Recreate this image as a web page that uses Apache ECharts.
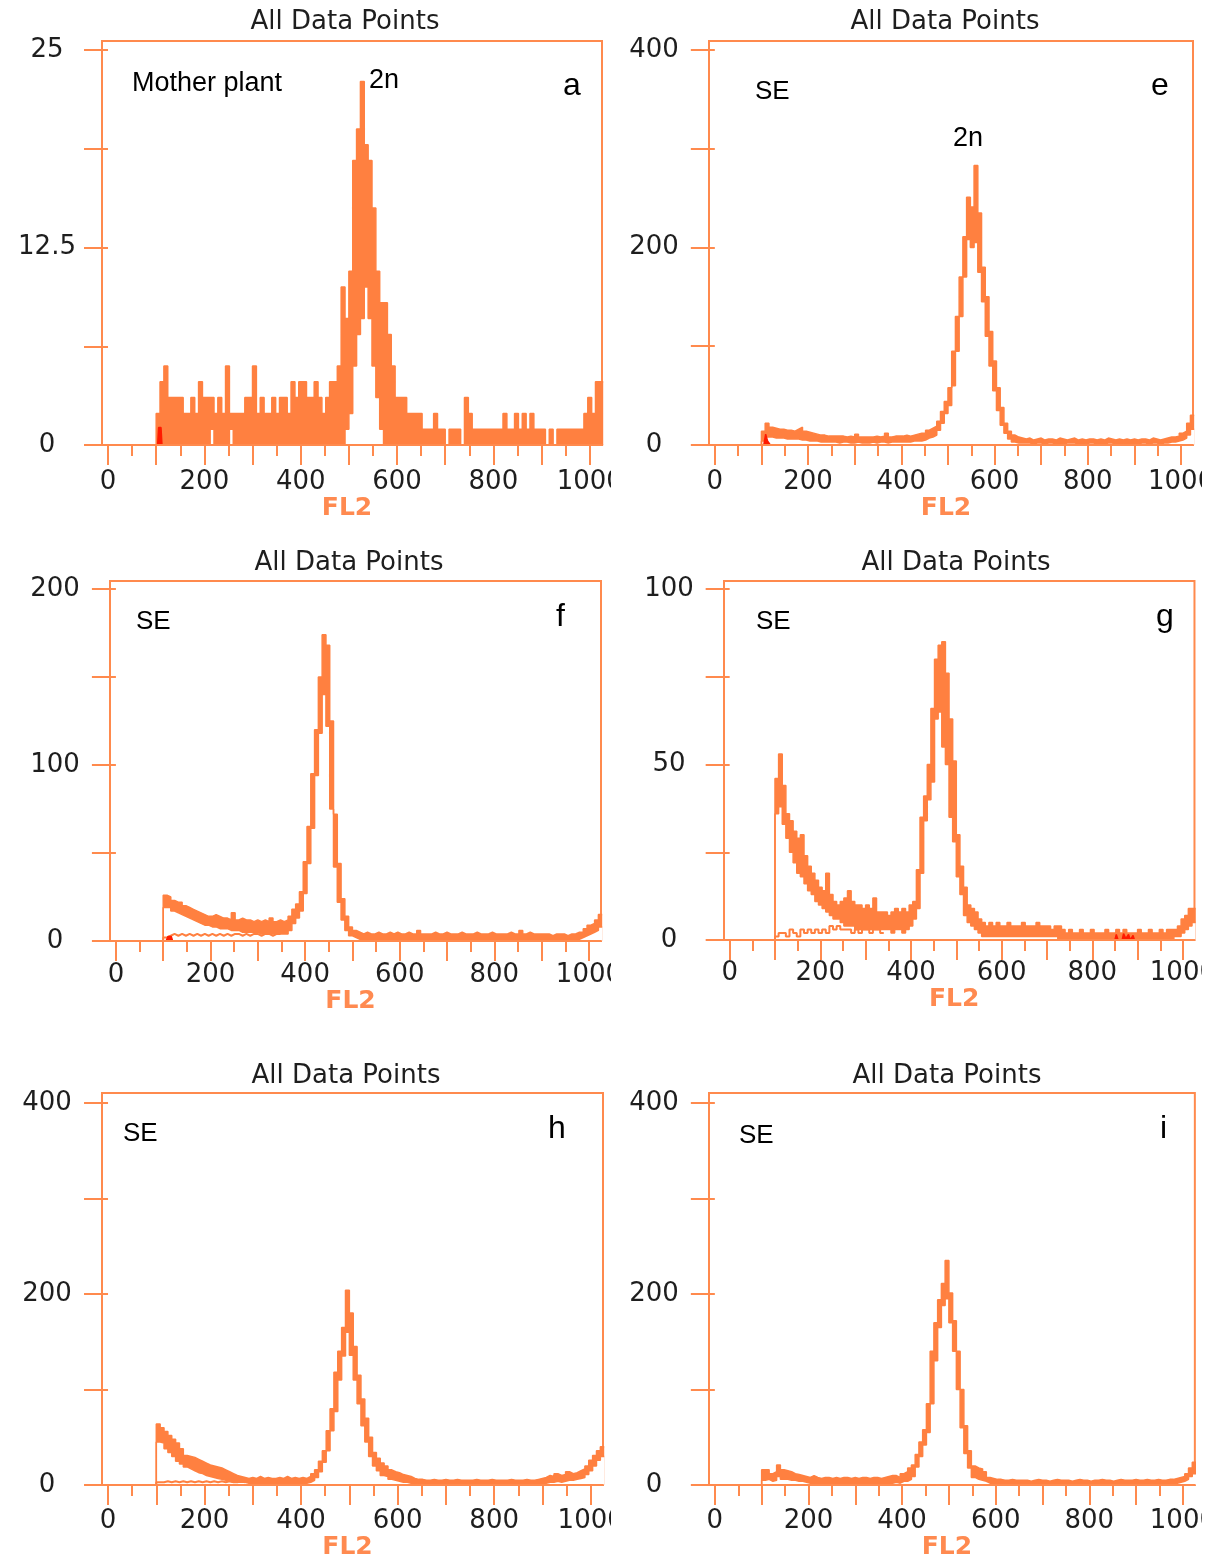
<!DOCTYPE html>
<html>
<head>
<meta charset="utf-8">
<title>FL2 histograms</title>
<script src="https://cdn.jsdelivr.net/npm/echarts@6/dist/echarts.min.js"></script>
<style>
  html, body { margin: 0; padding: 0; background: #fff; }
  #chart { width: 1219px; height: 1561px; }
</style>
</head>
<body>
<div id="chart"></div>
<script>
// histogram bins: first FL2 channel and bin width (channels)
var binStart = 100;
var binStep = 8;

// FL2 axis ticks / labels
var xMajorTicks = [0, 100, 200, 300, 400, 500, 600, 700, 800, 900, 1000];
var xMinorTicks = [50, 150, 250, 350, 450, 550, 650, 750, 850, 950];
var xLabels = [0, 200, 400, 600, 800, 1000];

// count axis ticks / labels
var yTicksA = [0, 6.25, 12.5, 18.75, 25];
var yLabelsA = [0, 12.5, 25];
var yTicks400 = [0, 100, 200, 300, 400];
var yLabels400 = [0, 200, 400];
var yTicksF = [0, 50, 100, 150, 200];
var yLabelsF = [0, 100, 200];
var yTicksG = [0, 25, 50, 75, 100];
var yLabelsG = [0, 50, 100];

// each panel: upper (hi) and lower (lo) edge of the drawn trace per bin,
// bins start at channel 100, 108, ... 1020 (10 bins per row)
// a - Mother plant
var hiA = [2,4,5,3,3,3,3,2,2,3,
           2,4,3,3,3,2,3,2,5,2,
           2,2,2,3,3,5,2,3,2,2,
           3,2,3,3,2,4,3,4,4,3,
           3,4,3,2,3,4,4,5,10,8,
           11,18,20,23,19,18,15,11,9,9,
           7,5,3,3,3,2,2,2,2,1,
           1,1,2,1,1,0,1,1,1,0,
           3,2,1,1,1,1,1,1,1,1,
           2,1,1,2,1,2,1,2,1,1,
           1,0,1,0,1,1,1,1,1,1,
           1,2,3,2,4,4];
var loA = [0,0,0,0,0,0,0,0,0,0,
           0,0,0,0,1,0,0,0,0,1,
           0,0,0,0,0,0,0,0,0,0,
           0,0,0,0,0,0,0,0,0,0,
           0,0,0,0,0,0,0,0,0,1,
           2,5,7,8,10,8,5,3,1,0,
           0,0,0,0,0,0,0,0,0,0,
           0,0,0,0,0,0,0,0,0,0,
           0,0,0,0,0,0,0,0,0,0,
           0,0,0,0,0,0,0,0,0,0,
           0,0,0,0,0,0,0,0,0,0,
           0,0,0,0,0,0];

// e - SE
var hiE = [14,22,18,17,16,16,15,15,14,16,
           18,14,13,12,11,10,10,9,9,9,
           9,9,8,9,8,11,8,8,8,8,
           9,8,9,12,8,9,9,9,10,9,
           10,11,12,12,15,17,19,24,34,44,
           58,95,130,170,211,251,241,283,235,180,
           150,115,85,58,38,22,14,10,8,7,
           6,7,5,6,7,5,6,6,5,7,
           6,5,6,7,5,6,5,6,6,5,
           6,5,7,6,5,6,5,6,5,6,
           5,6,6,5,7,6,5,6,7,8,
           8,9,12,14,22,30];
var loE = [4,8,8,7,7,7,6,6,6,6,
           5,5,4,4,4,3,3,3,3,3,
           2,3,3,2,2,3,2,2,2,3,
           2,3,3,2,3,3,3,3,3,3,
           4,4,4,5,7,8,10,15,22,32,
           40,60,95,130,170,208,200,205,175,145,
           110,80,55,35,20,12,6,3,2,2,
           2,2,1,2,2,1,2,2,1,2,
           1,2,2,2,1,2,1,2,2,1,
           2,1,2,2,1,2,1,2,1,2,
           1,2,2,1,2,2,1,2,2,3,
           3,4,5,7,10,16];

// f - SE
var hiF = [26,25,23,22,22,20,19,18,17,16,
           15,14,14,15,14,13,13,12,16,12,
           13,12,12,11,12,11,12,11,13,11,
           12,11,12,14,18,21,28,45,65,95,
           120,150,174,168,125,72,44,24,14,8,
           6,5,4,5,4,4,5,4,4,5,
           4,5,4,4,5,4,4,6,4,4,
           4,5,4,4,5,4,4,4,5,4,
           4,4,5,4,4,4,5,4,4,4,
           4,5,4,4,6,4,5,4,4,4,
           4,4,3,4,4,4,3,4,4,5,
           5,7,9,10,12,15];
var loF = [19,19,17,16,15,14,13,12,11,10,
           9,9,8,8,7,7,7,6,6,6,
           5,5,5,5,5,4,4,4,4,4,
           4,4,4,6,10,13,17,27,44,64,
           94,118,140,122,75,42,22,12,6,3,
           2,1,1,1,1,1,1,1,1,1,
           1,1,1,1,1,1,1,1,1,1,
           1,1,1,1,1,1,1,1,1,1,
           1,1,1,1,1,1,1,1,1,1,
           1,1,1,1,1,1,1,1,1,1,
           1,1,1,1,1,1,1,1,1,1,
           2,3,4,5,6,8];
// second, lower trace (channels 100 - 340)
var lowF = [2,3,4,3,4,3,4,3,4,3,
            4,3,4,3,4,3,4,3,4,4,
            3,4,3,4,4,3,4,4,3,4,
            4];

// g - SE
var hiG = [46,53,44,36,34,31,29,30,24,21,
           19,17,15,14,19,13,11,10,11,12,
           14,11,10,10,9,10,9,12,8,8,
           8,7,8,9,8,9,8,10,11,20,
           35,41,50,66,80,84,85,76,63,51,
           30,21,15,10,9,8,6,5,4,5,
           4,5,4,4,5,4,4,4,5,4,
           4,4,5,4,4,4,3,4,4,3,
           2,3,2,2,3,2,2,3,2,2,
           2,3,2,2,3,2,3,2,2,2,
           3,2,2,3,2,2,3,2,3,3,
           3,4,6,7,9,9];
var loG = [36,38,33,29,25,22,19,18,16,14,
           13,11,10,9,8,7,6,6,5,4,
           4,4,3,3,3,3,3,3,3,3,
           3,3,2,3,3,2,3,4,6,9,
           19,34,40,45,63,65,55,50,35,28,
           18,13,7,5,4,3,2,1,1,1,
           1,1,1,1,1,1,1,1,1,1,
           1,1,1,1,1,1,1,1,0,0,
           0,0,0,0,0,0,0,0,0,0,
           0,0,0,0,0,0,0,0,0,0,
           0,0,0,0,0,0,0,0,0,0,
           1,1,2,3,4,5];
// lower trace (channels 100 - 332)
var lowG = [1,2,2,1,3,2,1,3,2,3,
            2,3,2,3,2,4,3,4,3,3,
            3,2,3,2,3,3,2,3,3,2];

// h - SE
var hiH = [64,60,56,52,48,44,38,31,30,29,
           27,25,23,21,20,19,18,16,14,12,
           10,9,8,7,8,7,9,7,8,7,
           7,8,7,9,7,8,7,8,7,9,
           12,16,25,36,57,80,118,140,165,204,
           180,145,115,90,70,50,34,28,23,20,
           16,14,13,11,10,9,7,6,6,5,
           5,6,5,5,6,5,5,6,5,5,
           5,5,6,5,5,5,6,5,5,5,
           5,6,5,5,5,6,5,5,6,7,
           8,10,9,12,10,11,14,12,13,15,
           17,20,26,31,36,40];
var loH = [45,44,38,34,30,25,22,19,17,15,
           13,12,10,9,8,7,6,5,4,3,
           3,3,3,2,2,2,2,2,2,2,
           2,2,2,2,2,2,2,2,2,3,
           5,8,14,24,36,57,77,110,135,160,
           136,110,85,62,45,30,20,15,10,9,
           6,5,4,3,3,2,2,1,1,1,
           1,1,1,1,1,1,1,1,1,1,
           1,1,1,1,1,1,1,1,1,1,
           1,1,1,1,1,1,1,1,1,2,
           2,3,3,4,3,4,5,5,6,7,
           8,11,15,20,26,30];
// lower trace (channels 100 - 276)
var lowH = [3,3,4,3,4,3,4,3,4,3,
            4,3,4,3,4,3,4,3,4,3,
            3,4,3];

// i - SE
var hiI = [16,16,12,14,21,16,15,14,12,11,
           10,9,8,10,8,7,8,8,7,8,
           7,8,8,7,8,7,8,8,7,8,
           8,7,8,9,10,10,8,12,14,18,
           21,32,45,58,85,140,170,194,211,235,
           201,172,140,100,62,36,20,18,17,14,
           8,7,6,6,5,5,6,5,5,5,
           5,4,5,6,5,5,4,5,6,5,
           5,5,4,5,6,5,5,4,5,5,
           6,5,5,4,5,6,5,5,5,6,
           5,5,6,5,5,6,5,5,6,6,
           7,8,9,12,18,24];
var loI = [5,6,4,5,9,6,6,5,5,4,
           4,3,2,2,2,2,2,2,2,2,
           2,2,2,2,2,2,2,2,2,2,
           2,2,2,2,2,3,2,4,4,6,
           9,19,30,42,55,85,130,165,188,195,
           170,140,100,60,33,18,8,6,5,4,
           2,1,1,1,1,1,1,1,1,1,
           1,1,1,1,1,1,1,1,1,1,
           1,1,1,1,1,1,1,1,1,1,
           1,1,1,1,1,1,1,1,1,1,
           1,1,1,1,1,1,1,1,1,1,
           2,3,4,6,9,12];

// red region markers [channel, count]
var markA = [[103, 0], [105, 1.1], [110, 1.1], [112, 0]];
var markE = [[105, 0], [109, 11], [113, 4], [119, 0]];
var markF = [[106, 0], [110, 2.5], [117, 2.5], [120, 0]];
var markG = [[850, 0], [853, 1.6], [857, 0], [866, 0], [869, 1.8], [874, 0.4], [880, 1.6], [884, 0], [890, 1.3], [893, 0]];

var traceColor = '#ff8040';
var boxColor = '#ff8a4d';
var nameColor = '#ff8a50';
var textColor = '#1e1e1e';
var xMin = -12.5, xMax = 1025.5;

var panels = [
  { grid: {left: 102, top: 41, width: 500, height: 404}, yMax: 25.57, yTicks: yTicksA, yLabels: yLabelsA,
    labelGap: 37, nameGap: 56, hi: hiA, lo: loA, low: null, mark: markA, title: [345, 22.7],
    notes: [['Mother plant', 132, 83.7, 27, 'left'], ['2n', 369, 80.7, 27, 'left'], ['a', 563, 86, 32, 'left']] },
  { grid: {left: 709, top: 41, width: 484, height: 404}, yMax: 409.1, yTicks: yTicks400, yLabels: yLabels400,
    labelGap: 37, nameGap: 56, hi: hiE, lo: loE, low: null, mark: markE, title: [945, 22.7],
    notes: [['SE', 755, 92, 26, 'left'], ['2n', 953, 138.7, 27, 'left'], ['e', 1151, 86, 32, 'left']] },
  { grid: {left: 110, top: 581, width: 491, height: 360}, yMax: 204.5, yTicks: yTicksF, yLabels: yLabelsF,
    labelGap: 34, nameGap: 52, hi: hiF, lo: loF, low: lowF, mark: markF, title: [349, 563.3],
    notes: [['SE', 136, 622, 26, 'left'], ['f', 556, 617, 32, 'left']] },
  { grid: {left: 724, top: 581, width: 477, height: 359}, yMax: 102.3, yTicks: yTicksG, yLabels: yLabelsG,
    labelGap: 33, nameGap: 51, hi: hiG, lo: loG, low: lowG, mark: markG, title: [956, 563.3],
    notes: [['SE', 756, 622, 26, 'left'], ['g', 1156, 617, 32, 'left']] },
  { grid: {left: 102, top: 1093, width: 501, height: 399}, yMax: 410.3, yTicks: yTicks400, yLabels: yLabels400,
    labelGap: 36, nameGap: 58, hi: hiH, lo: loH, low: lowH, mark: null, title: [346, 1076],
    notes: [['SE', 123, 1134, 26, 'left'], ['h', 548, 1129, 32, 'left']] },
  { grid: {left: 709, top: 1093, width: 488, height: 399}, yMax: 410.3, yTicks: yTicks400, yLabels: yLabels400,
    labelGap: 36, nameGap: 58, hi: hiI, lo: loI, low: null, mark: null, title: [947, 1076],
    notes: [['SE', 739, 1136, 26, 'left'], ['i', 1160, 1129, 32, 'left']] }
];

// bins -> step points, starting from the baseline
function toSteps(vals) {
  var d = [[binStart - binStep, 0]];
  vals.forEach(function (v, i) { d.push([binStart + i * binStep, v]); });
  d.push([binStart + vals.length * binStep, vals[vals.length - 1]]);
  return d;
}
function plain(v) { return String(v); }

var option = { animation: false, grid: [], xAxis: [], yAxis: [], series: [], graphic: [] };
var labelFont = { fontFamily: 'DejaVu Sans', fontSize: 26, color: textColor };

panels.forEach(function (p, gi) {
  option.grid.push(Object.assign({ show: true, borderColor: boxColor, borderWidth: 2 }, p.grid));

  option.xAxis.push({
    gridIndex: gi, type: 'value', min: xMin, max: xMax, position: 'bottom', z: 5,
    axisLine: { show: true, lineStyle: { color: boxColor, width: 2 } },
    axisTick: { show: true, customValues: xMajorTicks, length: 20, lineStyle: { color: boxColor, width: 2 } },
    axisLabel: Object.assign({ customValues: xLabels, margin: p.labelGap, verticalAlign: 'middle', formatter: plain }, labelFont),
    splitLine: { show: false },
    name: 'FL2', nameLocation: 'middle', nameGap: p.nameGap,
    nameTextStyle: { fontFamily: 'DejaVu Sans', fontWeight: 'bold', fontSize: 25, color: nameColor,
                     verticalAlign: 'middle', padding: [0, 10, 0, 0] }
  });
  option.xAxis.push({
    gridIndex: gi, type: 'value', min: xMin, max: xMax, position: 'bottom',
    axisLine: { show: false },
    axisTick: { show: true, customValues: xMinorTicks, length: 11, lineStyle: { color: boxColor, width: 2 } },
    axisLabel: { show: false }, splitLine: { show: false }
  });
  option.yAxis.push({
    gridIndex: gi, type: 'value', min: 0, max: p.yMax,
    axisLine: { show: false },
    axisTick: { show: true, customValues: p.yTicks, length: 24, lineStyle: { color: boxColor, width: 2 } },
    axisLabel: Object.assign({ customValues: p.yLabels, margin: 55, align: 'center', verticalAlign: 'middle', formatter: plain }, labelFont),
    splitLine: { show: false }
  });

  var base = { type: 'line', xAxisIndex: gi * 2, yAxisIndex: gi, step: 'end', symbol: 'none', silent: true };
  // upper edge, filled down to the baseline
  option.series.push(Object.assign({}, base, {
    data: toSteps(p.hi), lineStyle: { color: traceColor, width: 1.5 },
    areaStyle: { color: traceColor, opacity: 1 }
  }));
  // lower edge, cleared below so only the band between the edges stays
  option.series.push(Object.assign({}, base, {
    data: toSteps(p.lo), lineStyle: { color: traceColor, width: 1.5 },
    areaStyle: { color: '#ffffff', opacity: 1 }
  }));
  if (p.low) {
    option.series.push(Object.assign({}, base, {
      data: toSteps(p.low), lineStyle: { color: traceColor, width: 2 }
    }));
  }
  if (p.mark) {
    option.series.push({
      type: 'line', xAxisIndex: gi * 2, yAxisIndex: gi, symbol: 'none', silent: true, z: 4,
      data: p.mark, lineStyle: { color: '#ff1a00', width: 1.5 }, areaStyle: { color: '#ff1a00', opacity: 1 }
    });
  }

  option.graphic.push({
    type: 'text', x: p.title[0], y: p.title[1], z: 100,
    style: { text: 'All Data Points', font: '26px "DejaVu Sans"', fill: textColor,
             align: 'center', verticalAlign: 'middle', textAlign: 'center', textVerticalAlign: 'middle' }
  });
  p.notes.forEach(function (n) {
    option.graphic.push({
      type: 'text', x: n[1], y: n[2], z: 100,
      style: { text: n[0], font: n[3] + 'px "Liberation Sans"', fill: '#000',
               align: n[4], verticalAlign: 'middle', textAlign: n[4], textVerticalAlign: 'middle' }
    });
  });
});

// the last tick label of each row is cut by the panel edge
[[611, 455, 15, 50], [611, 950, 15, 50], [611, 1505, 15, 50],
 [1202, 455, 17, 50], [1202, 950, 17, 50], [1202, 1505, 17, 50]].forEach(function (r) {
  option.graphic.push({ type: 'rect', z: 100, shape: { x: r[0], y: r[1], width: r[2], height: r[3] },
                        style: { fill: '#fff' } });
});

var chart = echarts.init(document.getElementById('chart'));
chart.setOption(option);
</script>
</body>
</html>
